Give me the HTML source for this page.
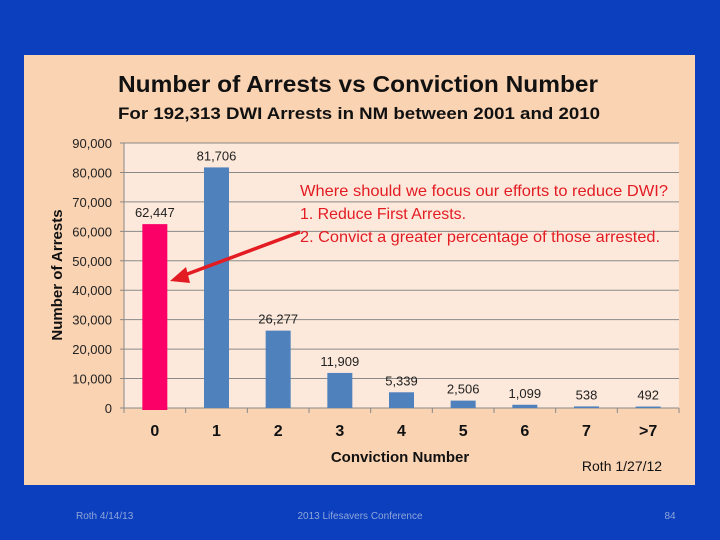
<!DOCTYPE html>
<html><head><meta charset="utf-8"><style>
body{margin:0;width:720px;height:540px;overflow:hidden;background:#0b3fbe;font-family:"Liberation Sans",sans-serif;}
svg{display:block}
</style></head><body>
<svg width="720" height="540">
<rect x="0" y="0" width="720" height="540" fill="#0b3fbe"/>
<rect x="24" y="55" width="671" height="430" fill="#fad3b3"/>
<rect x="124" y="143" width="555" height="265" fill="#fde9db"/>
<text x="118" y="92" textLength="480" lengthAdjust="spacingAndGlyphs" font-size="23" font-weight="bold" fill="#111">Number  of  Arrests  vs  Conviction Number</text>
<text x="118" y="119" textLength="482" lengthAdjust="spacingAndGlyphs" font-size="17" font-weight="bold" fill="#111">For 192,313 DWI Arrests in NM between 2001 and 2010</text>
<g id="grid"></g><g id="bars"></g><g id="labels"></g>
<text transform="translate(62,275) rotate(-90)" text-anchor="middle" font-size="15" font-weight="bold" fill="#111">Number of Arrests</text>
<text x="400" y="462" text-anchor="middle" font-size="15" font-weight="bold" fill="#111">Conviction Number</text>
<text x="622" y="471" text-anchor="middle" font-size="14" fill="#111">Roth 1/27/12</text>
<g fill="#e31b23" font-size="16">
<text x="300" y="196" textLength="368" lengthAdjust="spacingAndGlyphs">Where should we focus our efforts to reduce DWI?</text>
<text x="300" y="219" textLength="166" lengthAdjust="spacingAndGlyphs">1. Reduce First Arrests.</text>
<text x="300" y="242" textLength="360" lengthAdjust="spacingAndGlyphs">2. Convict a greater percentage of those arrested.</text>
</g>
<line x1="300" y1="232" x2="182" y2="276" stroke="#e31b23" stroke-width="3.5"/>
<polygon points="170,281 186,267 190,283" fill="#e31b23"/>
<text x="76" y="519" font-size="10" fill="#8ea6d8">Roth 4/14/13</text>
<text x="360" y="519" text-anchor="middle" font-size="10" fill="#8ea6d8">2013 Lifesavers Conference</text>
<text x="670" y="519" text-anchor="middle" font-size="10" fill="#8ea6d8">84</text>
</svg>
<script>
const categories=["0","1","2","3","4","5","6","7",">7"];
const values=[62447,81706,26277,11909,5339,2506,1099,538,492];
const valueLabels=["62,447","81,706","26,277","11,909","5,339","2,506","1,099","538","492"];
const yTicks=[0,10000,20000,30000,40000,50000,60000,70000,80000,90000];
const NS="http://www.w3.org/2000/svg";
const X0=124,X1=679,Y0=408,Y1=143,YMAX=90000;
const bw=(X1-X0)/categories.length;
function y(v){return Y0-(v/YMAX)*(Y0-Y1);}
function xc(i){return X0+bw*(i+0.5);}
function mk(t,a,p){const e=document.createElementNS(NS,t);for(const k in a)e.setAttribute(k,a[k]);p.appendChild(e);return e;}
const grid=document.getElementById('grid'),bars=document.getElementById('bars'),labels=document.getElementById('labels');
yTicks.forEach(t=>{
 const l=mk('line',{x1:X0-4,x2:X1,y1:y(t),y2:y(t),stroke:'#8a8a8a','stroke-width':1},grid);
 
 
 const tx=mk('text',{x:112,y:y(t)+5,'text-anchor':'end','font-size':13,fill:'#222'},grid);
 tx.textContent=t.toLocaleString('en-US');
 
 
});
mk('line',{x1:X0,x2:X0,y1:Y1,y2:Y0,stroke:'#888'},grid);
for(let i=0;i<=categories.length;i++){
 const tk=mk('line',{x1:X0+bw*i,x2:X0+bw*i,y1:Y0,y2:Y0+5,stroke:'#888'},grid);
 
 
}
categories.forEach((c,i)=>{
 const w=25, top=y(values[i]);
 const r=mk('rect',{x:xc(i)-w/2,y:top,width:w,height:Y0-top+(i===0?2:0),fill:i===0?'#fb0066':'#4f81bd'},bars);
 
 
 const vl=mk('text',{x:xc(i),y:top-7,'text-anchor':'middle','font-size':13,fill:'#222'},labels);
 vl.textContent=valueLabels[i];
 
 
 const cl=mk('text',{x:xc(i),y:436,'text-anchor':'middle','font-size':16,'font-weight':'bold',fill:'#111'},labels);
 cl.textContent=c;
 
 
});
</script>
</body></html>
